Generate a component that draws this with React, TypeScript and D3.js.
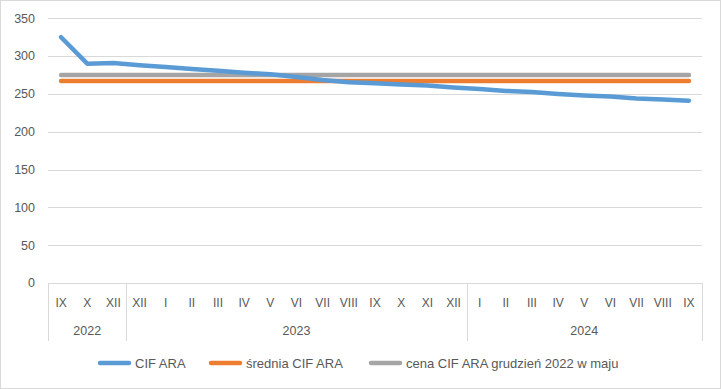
import React, { useRef, useEffect } from 'react';
import * as d3 from 'd3';

const months: string[] = [
    'IX', 'X', 'XII',
    'XII', 'I', 'II', 'III', 'IV', 'V', 'VI', 'VII', 'VIII', 'IX', 'X', 'XI', 'XII',
    'I', 'II', 'III', 'IV', 'V', 'VI', 'VII', 'VIII', 'IX',
];
const years: { label: string; count: number }[] = [
    { label: '2022', count: 3 },
    { label: '2023', count: 13 },
    { label: '2024', count: 9 },
];
const cifAra: number[] = [
    325, 290, 291,
    288, 285.5, 283, 280.5, 278, 276, 272.5, 268.5, 265.5, 264, 262.5, 261, 258.5,
    256.5, 254, 252.5, 250, 248, 246.5, 244, 242.5, 241,
];
const sredniaCifAra: number[] = months.map(() => 267);
const cenaGrudzien: number[] = months.map(() => 275);
const yTicks: number[] = [0, 50, 100, 150, 200, 250, 300, 350];

const seriesNames = ['CIF ARA', 'średnia CIF ARA', 'cena CIF ARA grudzień 2022 w maju'];
const seriesColors = ['#5B9BD5', '#ED7D31', '#A5A5A5'];

function App() {
    const ref = useRef<SVGSVGElement>(null);
    const width = 721;
    const height = 389;

    useEffect(() => {
        if (!ref.current) return;
        const svg = d3.select(ref.current);
        svg.selectAll('*').remove();

        const left = 48, right = 702, top = 18.3, bottom = 283;
        const font = 'Liberation Sans, Arial, sans-serif';
        const textColor = '#595959';
        const gridColor = '#D9D9D9';

        svg.append('rect')
            .attr('x', 0.5).attr('y', 0.5)
            .attr('width', width - 1).attr('height', height - 1)
            .attr('fill', 'white').attr('stroke', gridColor);

        const x = d3.scaleBand<number>()
            .domain(months.map((_, i) => i))
            .range([left, right]);
        const y = d3.scaleLinear().domain([0, 350]).range([bottom, top]);

        // gridlines
        svg.append('g')
            .selectAll('line')
            .data(yTicks)
            .join('line')
                .attr('x1', left).attr('x2', right)
                .attr('y1', d => Math.round(y(d)) + 0.5)
                .attr('y2', d => Math.round(y(d)) + 0.5)
                .attr('stroke', gridColor).attr('stroke-width', 1);

        svg.append('g')
            .attr('font-family', font).attr('font-size', 12.5)
            .attr('fill', textColor).attr('text-anchor', 'end')
            .selectAll('text')
            .data(yTicks)
            .join('text')
                .attr('x', 35)
                .attr('y', d => y(d))
                .attr('dy', '0.35em')
                .text(d => d);

        // category axis separators
        let acc = 0;
        const bounds: number[] = [0];
        years.forEach(g => { acc += g.count; bounds.push(acc); });
        const bandX = (i: number) => left + i * x.step();

        svg.append('g')
            .selectAll('line')
            .data(bounds)
            .join('line')
                .attr('x1', d => Math.round(bandX(d)) + 0.5)
                .attr('x2', d => Math.round(bandX(d)) + 0.5)
                .attr('y1', bottom).attr('y2', 341)
                .attr('stroke', gridColor);

        svg.append('g')
            .attr('font-family', font).attr('font-size', 12)
            .attr('fill', textColor).attr('text-anchor', 'middle')
            .selectAll('text')
            .data(months)
            .join('text')
                .attr('x', (_, i) => (x(i) as number) + x.bandwidth() / 2)
                .attr('y', 303)
                .attr('dy', '0.35em')
                .text(d => d);

        svg.append('g')
            .attr('font-family', font).attr('font-size', 12.5)
            .attr('fill', textColor).attr('text-anchor', 'middle')
            .selectAll('text')
            .data(years)
            .join('text')
                .attr('x', (_, i) => (bandX(bounds[i]) + bandX(bounds[i + 1])) / 2)
                .attr('y', 331)
                .attr('dy', '0.35em')
                .text(d => d.label);

        // lines
        const line = d3.line<number>()
            .x((_, i) => (x(i) as number) + x.bandwidth() / 2)
            .y(d => y(d));

        const all = [cifAra, sredniaCifAra, cenaGrudzien];
        [2, 1, 0].forEach(k => {
            svg.append('path')
                .datum(all[k])
                .attr('fill', 'none')
                .attr('stroke', seriesColors[k])
                .attr('stroke-width', 4.5)
                .attr('stroke-linecap', 'round')
                .attr('stroke-linejoin', 'round')
                .attr('d', line);
        });

        // legend
        const legendX = [100, 211, 371];
        const legend = svg.append('g')
            .selectAll('g')
            .data(seriesNames)
            .join('g')
                .attr('transform', (_, i) => `translate(${legendX[i]},363)`);
        legend.append('line')
            .attr('x1', 0).attr('x2', 29)
            .attr('stroke', (_, i) => seriesColors[i])
            .attr('stroke-width', 4.5)
            .attr('stroke-linecap', 'round');
        legend.append('text')
            .attr('x', 35)
            .attr('dy', '0.35em')
            .attr('font-family', font).attr('font-size', 13)
            .attr('fill', textColor)
            .text(d => d);
    }, []);

    return (
        <svg
            ref={ref}
            width={width}
            height={height}
            style={{ position: 'absolute', left: 0, top: 0 }}
        />
    );
}

export default App;
